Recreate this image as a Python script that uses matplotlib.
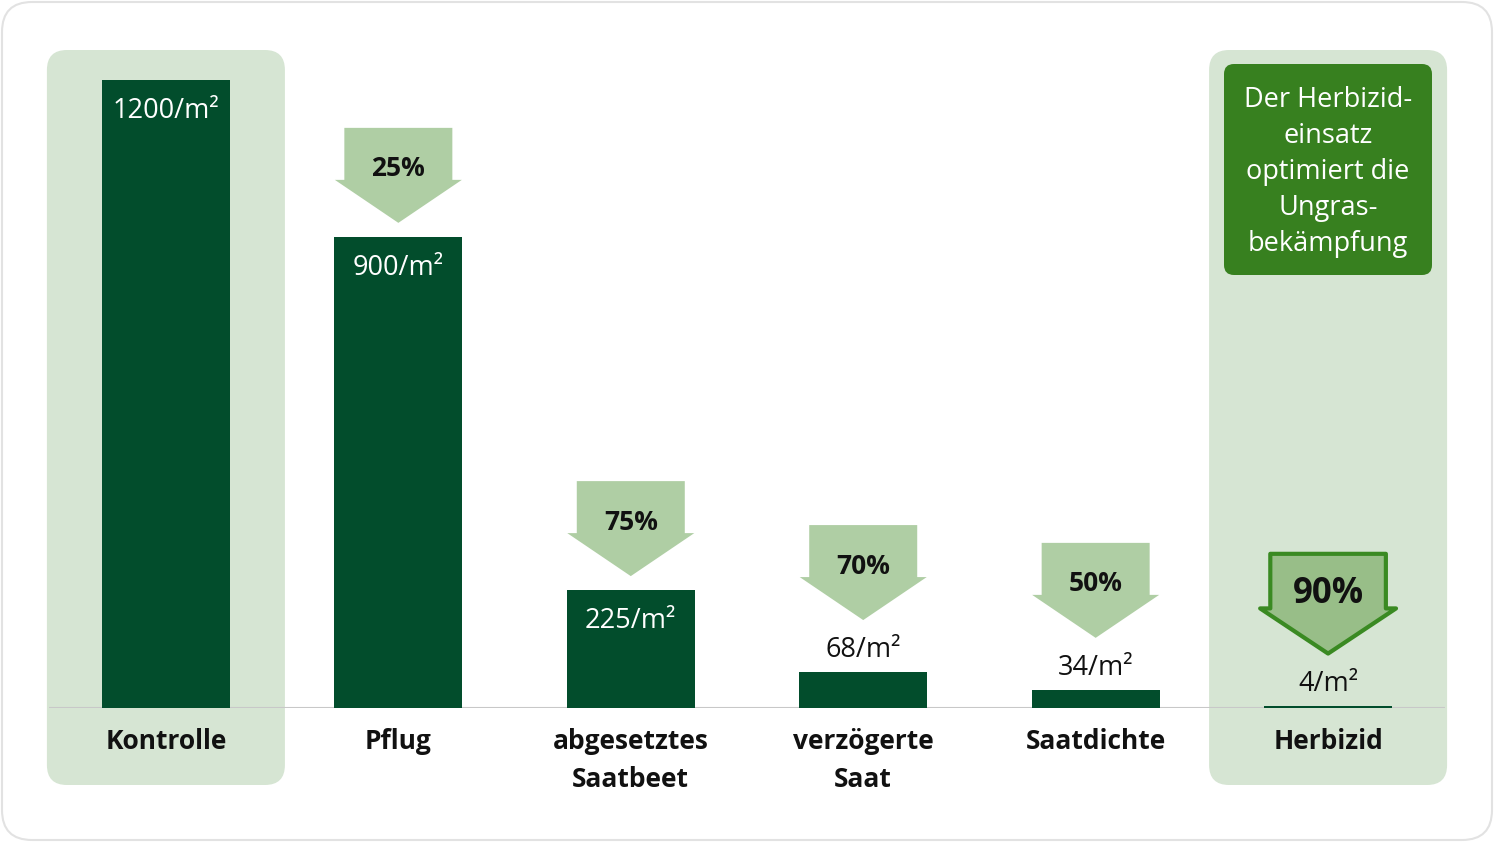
import matplotlib.pyplot as plt
from matplotlib.patches import FancyBboxPatch, Polygon

plt.rcParams['font.family'] = ['Open Sans', 'Noto Sans', 'DejaVu Sans']

# data
categories = ['Kontrolle', 'Pflug', 'abgesetztes\nSaatbeet', 'verzögerte\nSaat', 'Saatdichte', 'Herbizid']
values = [1200, 900, 225, 68, 34, 4]
value_labels = ['1200/m²', '900/m²', '225/m²', '68/m²', '34/m²', '4/m²']
reductions = [None, '25%', '75%', '70%', '50%', '90%']
highlight = [True, False, False, False, False, True]
note_text = 'Der Herbizid-\neinsatz\noptimiert die\nUngras-\nbekämpfung'

bar_color = '#024d2c'
panel_color = '#d6e5d3'
arrow_color = '#afcea4'
hl_arrow_fill = '#98be88'
hl_arrow_edge = '#3a8a22'
note_color = '#37801f'

W, H = 1494, 842
fig = plt.figure(figsize=(W / 100, H / 100), dpi=100)

# background layer in pixel coordinates
bg = fig.add_axes([0, 0, 1, 1], zorder=0)
bg.set_xlim(0, W)
bg.set_ylim(H, 0)
bg.axis('off')
bg.add_patch(FancyBboxPatch((2, 2), W - 4, H - 4, boxstyle='round,pad=0,rounding_size=30',
                            facecolor='white', edgecolor='#e2e2e2', linewidth=1.5))

ax = fig.add_axes([49 / W, (H - 708) / H, 1396 / W, 658 / H], zorder=1)
ax.patch.set_alpha(0)
ax.set_xlim(-0.503, 5.503)
ax.set_ylim(0, 1257.3)
ax.axis('off')

x = list(range(len(categories)))
ax.bar(x, values, width=0.55, color=bar_color, zorder=3)
ax.axhline(0, color='#c8c8c8', linewidth=1.5, zorder=2)

# data -> background pixel coords
def to_px(xv, yv):
    px, py = ax.transData.transform((xv, yv))
    return px, H - py

# highlighted panels
for i, hl in enumerate(highlight):
    if not hl:
        continue
    x0, _ = to_px(i - 0.512, 0)
    x1, _ = to_px(i + 0.512, 0)
    bg.add_patch(FancyBboxPatch((x0, 50), x1 - x0, 735, boxstyle='round,pad=0,rounding_size=20',
                                facecolor=panel_color, edgecolor='none'))

# category labels
for i, cat in enumerate(categories):
    ax.annotate(cat, (i, 0), xytext=(0, -14.5), textcoords='offset points',
                ha='center', va='top', fontsize=19, fontweight='bold',
                linespacing=1.53, color='#111111')

# value labels: inside bar if tall enough, else above
for i, (v, lab) in enumerate(zip(values, value_labels)):
    inside = v >= 200
    ax.annotate(lab, (i, v), xytext=(0, -22 if inside else 16), textcoords='offset points',
                ha='center', va='center', fontsize=19.5,
                color='white' if inside else '#111111', zorder=4)

# reduction arrows
for i, (v, r) in enumerate(zip(values, reductions)):
    if r is None:
        continue
    inside = v >= 200
    tip = v + (27 if inside else 100)
    hl = highlight[i]
    sx, sy = (1.07, 1.05) if hl else (1.0, 1.0)
    cx, ty = to_px(i, tip)
    head_h, shaft_h = 43 * sy, 52 * sy
    hw_head, hw_shaft = 63.5 * sx, 54 * sx
    pts = [(cx, ty), (cx - hw_head, ty - head_h), (cx - hw_shaft, ty - head_h),
           (cx - hw_shaft, ty - head_h - shaft_h), (cx + hw_shaft, ty - head_h - shaft_h),
           (cx + hw_shaft, ty - head_h), (cx + hw_head, ty - head_h)]
    if hl:
        bg.add_patch(Polygon(pts, closed=True, facecolor=hl_arrow_fill, edgecolor=hl_arrow_edge,
                             linewidth=3, joinstyle='round', zorder=5))
    else:
        bg.add_patch(Polygon(pts, closed=True, facecolor=arrow_color, edgecolor='none', zorder=5))
    top = ty - head_h - shaft_h
    bg.text(cx, top + (40 if hl else 41), r, ha='center', va='center', fontweight='bold',
            fontsize=25 if hl else 19, color='#111111', zorder=6)

# note box
bg.add_patch(FancyBboxPatch((1224, 64), 208, 211, boxstyle='round,pad=0,rounding_size=10',
                            facecolor=note_color, edgecolor='none', zorder=5))
bg.text(1328, 172, note_text, ha='center', va='center', fontsize=19.5, color='white',
        linespacing=1.37, zorder=6)

fig.savefig('out.png', dpi=100)
